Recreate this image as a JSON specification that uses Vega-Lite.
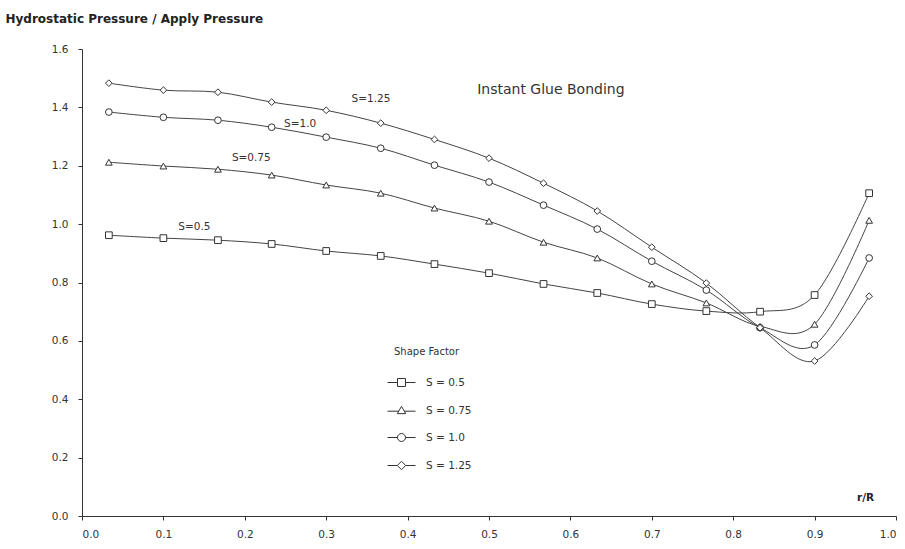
{
  "$schema": "https://vega.github.io/schema/vega-lite/v6.json",
  "width": 814,
  "height": 467,
  "autosize": {"type": "none"},
  "padding": {"left": 82, "top": 49, "right": 9, "bottom": 33},
  "background": "white",
  "config": {
    "view": {"stroke": null},
    "font": "DejaVu Sans",
    "axis": {"grid": false, "domainColor": "#333", "tickColor": "#333", "labelColor": "#333", "labelFontSize": 10.5, "labelFont": "DejaVu Sans", "tickSize": 4, "titleColor": "#222", "titleFont": "DejaVu Sans"},
    "legend": {"titleFont": "DejaVu Sans", "labelFont": "DejaVu Sans"}
  },
  "datasets": {
    "curves": [
      {"r": 0.033, "S": "S = 0.5", "p": 0.962}, {"r": 0.1, "S": "S = 0.5", "p": 0.952}, {"r": 0.167, "S": "S = 0.5", "p": 0.945}, {"r": 0.233, "S": "S = 0.5", "p": 0.932}, {"r": 0.3, "S": "S = 0.5", "p": 0.908}, {"r": 0.367, "S": "S = 0.5", "p": 0.891}, {"r": 0.433, "S": "S = 0.5", "p": 0.863}, {"r": 0.5, "S": "S = 0.5", "p": 0.832}, {"r": 0.567, "S": "S = 0.5", "p": 0.795}, {"r": 0.633, "S": "S = 0.5", "p": 0.764}, {"r": 0.7, "S": "S = 0.5", "p": 0.726}, {"r": 0.767, "S": "S = 0.5", "p": 0.702}, {"r": 0.833, "S": "S = 0.5", "p": 0.7}, {"r": 0.9, "S": "S = 0.5", "p": 0.757}, {"r": 0.967, "S": "S = 0.5", "p": 1.106},
      {"r": 0.033, "S": "S = 0.75", "p": 1.212}, {"r": 0.1, "S": "S = 0.75", "p": 1.199}, {"r": 0.167, "S": "S = 0.75", "p": 1.188}, {"r": 0.233, "S": "S = 0.75", "p": 1.168}, {"r": 0.3, "S": "S = 0.75", "p": 1.134}, {"r": 0.367, "S": "S = 0.75", "p": 1.106}, {"r": 0.433, "S": "S = 0.75", "p": 1.055}, {"r": 0.5, "S": "S = 0.75", "p": 1.01}, {"r": 0.567, "S": "S = 0.75", "p": 0.938}, {"r": 0.633, "S": "S = 0.75", "p": 0.884}, {"r": 0.7, "S": "S = 0.75", "p": 0.795}, {"r": 0.767, "S": "S = 0.75", "p": 0.73}, {"r": 0.833, "S": "S = 0.75", "p": 0.65}, {"r": 0.9, "S": "S = 0.75", "p": 0.657}, {"r": 0.967, "S": "S = 0.75", "p": 1.013},
      {"r": 0.033, "S": "S = 1.0", "p": 1.384}, {"r": 0.1, "S": "S = 1.0", "p": 1.366}, {"r": 0.167, "S": "S = 1.0", "p": 1.356}, {"r": 0.233, "S": "S = 1.0", "p": 1.332}, {"r": 0.3, "S": "S = 1.0", "p": 1.298}, {"r": 0.367, "S": "S = 1.0", "p": 1.26}, {"r": 0.433, "S": "S = 1.0", "p": 1.202}, {"r": 0.5, "S": "S = 1.0", "p": 1.144}, {"r": 0.567, "S": "S = 1.0", "p": 1.065}, {"r": 0.633, "S": "S = 1.0", "p": 0.983}, {"r": 0.7, "S": "S = 1.0", "p": 0.873}, {"r": 0.767, "S": "S = 1.0", "p": 0.774}, {"r": 0.833, "S": "S = 1.0", "p": 0.645}, {"r": 0.9, "S": "S = 1.0", "p": 0.586}, {"r": 0.967, "S": "S = 1.0", "p": 0.884},
      {"r": 0.033, "S": "S = 1.25", "p": 1.483}, {"r": 0.1, "S": "S = 1.25", "p": 1.459}, {"r": 0.167, "S": "S = 1.25", "p": 1.452}, {"r": 0.233, "S": "S = 1.25", "p": 1.418}, {"r": 0.3, "S": "S = 1.25", "p": 1.39}, {"r": 0.367, "S": "S = 1.25", "p": 1.346}, {"r": 0.433, "S": "S = 1.25", "p": 1.29}, {"r": 0.5, "S": "S = 1.25", "p": 1.226}, {"r": 0.567, "S": "S = 1.25", "p": 1.14}, {"r": 0.633, "S": "S = 1.25", "p": 1.045}, {"r": 0.7, "S": "S = 1.25", "p": 0.921}, {"r": 0.767, "S": "S = 1.25", "p": 0.798}, {"r": 0.833, "S": "S = 1.25", "p": 0.645}, {"r": 0.9, "S": "S = 1.25", "p": 0.531}, {"r": 0.967, "S": "S = 1.25", "p": 0.753}
    ],
    "notes": [
      {"r": 0.355, "p": 1.43, "label": "S=1.25", "big": false},
      {"r": 0.268, "p": 1.342, "label": "S=1.0", "big": false},
      {"r": 0.208, "p": 1.226, "label": "S=0.75", "big": false},
      {"r": 0.138, "p": 0.99, "label": "S=0.5", "big": false},
      {"r": 0.576, "p": 1.46, "label": "Instant Glue Bonding", "big": true}
    ]
  },
  "resolve": {"scale": {"shape": "independent"}, "legend": {"shape": "independent"}},
  "layer": [
    {
      "data": {"name": "curves"},
      "mark": {"type": "line", "interpolate": "cardinal", "color": "#444", "strokeWidth": 1},
      "encoding": {
        "x": {"field": "r", "type": "quantitative", "scale": {"domain": [0, 1]},
          "axis": {"values": [0, 0.1, 0.2, 0.3, 0.4, 0.5, 0.6, 0.7, 0.8, 0.9, 1.0], "format": ".1f", "labelPadding": 9, "title": "r/R", "titleX": 783, "titleY": -19, "titleBaseline": "middle", "titleAlign": "center", "titleFontSize": 10.5, "titleFontWeight": "bold"}},
        "y": {"field": "p", "type": "quantitative", "scale": {"domain": [0, 1.6]},
          "axis": {"values": [0, 0.2, 0.4, 0.6, 0.8, 1.0, 1.2, 1.4, 1.6], "format": ".1f", "labelPadding": 10, "title": "Hydrostatic Pressure / Apply Pressure", "titleAngle": 0, "titleAlign": "left", "titleBaseline": "middle", "titleX": -77, "titleY": -31, "titleFontSize": 12, "titleFontWeight": "bold"}},
        "detail": {"field": "S"}
      }
    },
    {
      "data": {"name": "curves"},
      "mark": {"type": "point", "filled": false, "fill": "white", "fillOpacity": 1, "color": "#333", "strokeWidth": 1, "size": 45, "opacity": 1},
      "encoding": {
        "x": {"field": "r", "type": "quantitative"},
        "y": {"field": "p", "type": "quantitative"},
        "shape": {"field": "S", "type": "nominal",
          "scale": {"domain": ["S = 0.5", "S = 0.75", "S = 1.0", "S = 1.25"], "range": ["square", "triangle-up", "circle", "diamond"]},
          "legend": null
        }
      }
    },
    {
      "data": {"name": "curves"},
      "transform": [{"filter": "datum.p > 100"}],
      "mark": {"type": "point", "filled": false, "color": "#333", "strokeWidth": 1},
      "encoding": {
        "x": {"field": "r", "type": "quantitative"},
        "y": {"field": "p", "type": "quantitative"},
        "shape": {"field": "S", "type": "nominal",
          "scale": {"domain": ["S = 0.5", "S = 0.75", "S = 1.0", "S = 1.25"],
            "range": [
              "M-2,0H-0.57M0.57,0H2M-0.57,-0.57H0.57V0.57H-0.57Z",
              "M-2,0.1H-0.4M0.4,0.1H2M0,-0.6L0.6,0.45L-0.6,0.45Z",
              "M-2,0H-0.57M0.57,0H2M-0.57,0A0.57,0.57 0 1,0 0.57,0A0.57,0.57 0 1,0 -0.57,0Z",
              "M-2,0H-0.6M0.6,0H2M0,-0.6L0.6,0L0,0.6L-0.6,0Z"
            ]},
          "legend": {
            "orient": "none", "legendX": 312, "legendY": 298,
            "title": "Shape Factor", "titleFontSize": 10, "titleFontWeight": "normal", "titleColor": "#333", "titlePadding": 18,
            "labelFontSize": 10.5, "labelColor": "#333", "labelOffset": 17,
            "symbolSize": 196, "symbolStrokeColor": "#333", "symbolStrokeWidth": 1, "symbolOpacity": 1, "rowPadding": 14
          }
        }
      }
    },
    {
      "data": {"name": "notes"},
      "mark": {"type": "text", "color": "#333", "align": "center", "baseline": "middle", "font": "DejaVu Sans"},
      "encoding": {
        "x": {"field": "r", "type": "quantitative"},
        "y": {"field": "p", "type": "quantitative"},
        "text": {"field": "label"},
        "size": {"field": "big", "type": "nominal", "scale": {"domain": [false, true], "range": [10.5, 14]}, "legend": null}
      }
    }
  ]
}
